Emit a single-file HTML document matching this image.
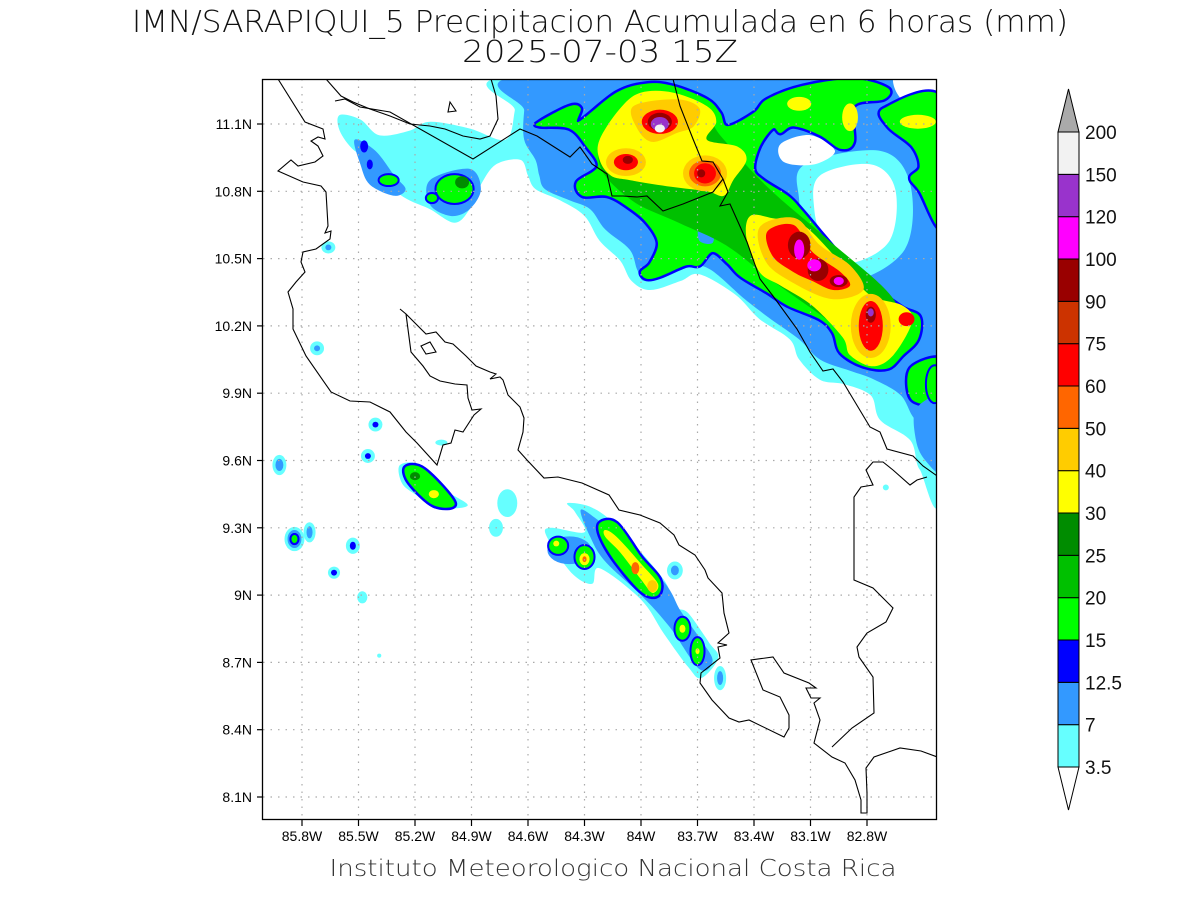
<!DOCTYPE html>
<html><head><meta charset="utf-8"><title>IMN SARAPIQUI Precipitacion</title>
<style>
html,body{margin:0;padding:0;background:#fff;}
svg{display:block;font-family:"Liberation Sans",sans-serif;}
.thin{font-family:"DejaVu Sans","Liberation Sans",sans-serif;font-weight:200;}
</style></head>
<body>
<svg id="chart" width="1200" height="900" viewBox="0 0 1200 900" xmlns="http://www.w3.org/2000/svg">
<rect x="0" y="0" width="1200" height="900" fill="#fff"/>
<text class="thin" x="600" y="32" text-anchor="middle" font-size="30" textLength="936" lengthAdjust="spacingAndGlyphs" fill="#111">IMN/SARAPIQUI_5 Precipitacion Acumulada en 6 horas (mm)</text>
<text class="thin" x="600" y="62" text-anchor="middle" font-size="30" textLength="276" lengthAdjust="spacingAndGlyphs" fill="#111">2025-07-03 15Z</text>
<defs><clipPath id="plotclip"><rect x="263" y="79" width="674" height="741"/></clipPath></defs>
<g id="shading" clip-path="url(#plotclip)"></g>
<g id="grid" clip-path="url(#plotclip)"></g>
<g id="coast" clip-path="url(#plotclip)" fill="none" stroke="#000" stroke-width="1.1">
<polyline points="278,79 305,122 323,129 325,139 318,137 311,141 318,146 323,156 315,162 298,166 291,160 278,171 303,182 321,186 326,192 328,226 325,233 331,231 330,239 316,249 303,252 301,262 305,272 296,282 288,292 293,309 293,329 306,356 331,392 350,401 370,402 390,412 406,432 417,443 437,465 443,445 451,443 455,430 463,432 474,415 481,409 472,410 468,398 467,385 455,384 440,381 430,376 423,366 411,352 406,314 400,309"/>
<polyline points="406,314 426,334 436,332 445,342 453,344 466,356 476,366 490,372 496,374 490,379 500,377 503,380 508,395 520,407 524,418 523,432 518,450 527,460 544,478 558,477 582,483 609,495 619,510 640,515 660,523 674,535 679,545 695,555 705,570 708,578 722,593 724,613 729,633 718,643 727,645 718,647 720,658 701,673 700,683 712,700 729,718 739,722 749,720 784,737 789,728 789,715 780,697 763,690 751,660 773,657 784,673 809,683 816,688 806,688 811,698 820,698 814,703 820,720 814,743 832,757 845,763 855,780 861,800 861,813 867,813 867,793 866,768 874,757 900,748 921,751 940,758"/>
<polyline points="832,747 852,728 874,713 873,677 859,657 857,647 867,633 886,622 893,608 873,588 854,580 854,497 861,487 873,485 866,470 873,462 883,462 893,470 910,485 917,480 927,477"/>
<polyline points="673,79 680,106 693,139 702,161 713,162 723,179 728,192 720,206 730,204 747,242 760,279 773,296 797,329 810,352 823,371 833,369 843,382 870,427 880,432 887,449 913,456 923,466 940,478"/>
<polyline points="335,101 345,99 360,107 390,112 473,159 520,129 537,136 570,157 580,147 592,164 607,174 612,196 623,196 637,197 647,196 663,211 683,204 713,192 723,179"/>
<polyline points="326,79 341,96 353,102 370,109 390,116 410,124 430,126 445,129 463,136 480,139 490,136 498,119 496,96 491,79"/>
<polygon points="450,102 456,111 448,112"/>
<polygon points="421,346 430,342 436,352 426,354"/>
</g>
<rect x="262.5" y="79.5" width="674" height="740" fill="none" stroke="#000" stroke-width="1.3"/>
<g id="axes"></g>
<g id="colorbar"></g>
<text class="thin" x="613" y="876" text-anchor="middle" font-size="23" textLength="567" lengthAdjust="spacingAndGlyphs" fill="#333">Instituto Meteorologico Nacional Costa Rica</text>
</svg>
<script>
// ---- data ----
const levelValues = [3.5, 7, 12.5, 15, 20, 25, 30, 40, 50, 60, 75, 90, 100, 120, 150, 200];
const levelLabels = ["3.5","7","12.5","15","20","25","30","40","50","60","75","90","100","120","150","200"];
const levelColors = ["#66ffff","#3399ff","#0000ff","#00ff00","#00c000","#008c00","#ffff00","#ffcc00","#ff6600","#ff0000","#cc3300","#990000","#ff00ff","#9933cc","#f2f2f2"];
const lonTicks = [85.8, 85.5, 85.2, 84.9, 84.6, 84.3, 84.0, 83.7, 83.4, 83.1, 82.8];
const lonTickLabels = ["85.8W","85.5W","85.2W","84.9W","84.6W","84.3W","84W","83.7W","83.4W","83.1W","82.8W"];
const latTicks = [11.1, 10.8, 10.5, 10.2, 9.9, 9.6, 9.3, 9.0, 8.7, 8.4, 8.1];
const latTickLabels = ["11.1N","10.8N","10.5N","10.2N","9.9N","9.6N","9.3N","9N","8.7N","8.4N","8.1N"];

// precipitation contour areas: value (mm) and vertices [lonW, lat]
const areaValues = [5, 10, 5, 0, 0, 0, 10, 10, 17, 10, 10, 17, 17, 22, 35, 45, 35, 45, 65, 5, 10, 17, 35, 5, 17, 10];
const areaPoints = [
 [[84.65,11.32],[82.40,11.32],[82.40,9.51],[82.52,9.56],[82.57,9.69],[82.73,9.78],[82.78,9.89],[82.92,9.94],[83.05,9.96],[83.16,10.05],[83.21,10.14],[83.37,10.23],[83.50,10.34],[83.69,10.43],[83.79,10.40],[83.95,10.36],[84.05,10.40],[84.11,10.49],[84.22,10.58],[84.30,10.69],[84.43,10.76],[84.56,10.81],[84.60,10.87],[84.64,10.94],[84.77,10.92],[84.85,10.83],[84.91,10.72],[84.99,10.66],[85.12,10.72],[85.23,10.76],[85.31,10.81],[85.39,10.92],[85.52,10.98],[85.60,11.07],[85.60,11.14],[85.49,11.12],[85.39,11.05],[85.23,11.07],[85.12,11.11],[84.91,11.08],[84.72,11.03],[84.67,11.16]],
 [[84.59,11.32],[82.40,11.32],[82.40,9.74],[82.54,9.78],[82.62,9.89],[82.76,9.96],[82.89,10.00],[83.05,10.05],[83.16,10.14],[83.31,10.23],[83.45,10.32],[83.63,10.45],[83.74,10.47],[83.87,10.45],[83.98,10.40],[84.02,10.45],[84.06,10.54],[84.19,10.63],[84.27,10.72],[84.38,10.76],[84.51,10.81],[84.54,10.87],[84.56,10.94],[84.62,11.03],[84.62,11.16]],
 [[83.13,10.92],[82.73,10.98],[82.57,10.83],[82.60,10.54],[82.89,10.40],[83.10,10.52],[83.16,10.76]],
 [[83.05,10.87],[82.78,10.92],[82.65,10.81],[82.68,10.58],[82.89,10.48],[83.02,10.56],[83.08,10.72]],
 [[83.26,11.01],[83.10,11.05],[82.97,10.98],[83.08,10.92],[83.24,10.93]],
 [[82.65,11.32],[82.40,11.32],[82.40,11.21],[82.60,11.20]],
 [[85.52,11.03],[85.41,10.98],[85.31,10.87],[85.25,10.81],[85.31,10.78],[85.44,10.83],[85.49,10.92]],
 [[85.12,10.85],[84.91,10.90],[84.85,10.81],[84.91,10.72],[85.01,10.69],[85.12,10.74]],
 [[84.54,11.11],[84.38,11.18],[84.32,11.17],[84.33,11.11],[84.13,11.24],[83.97,11.28],[83.83,11.27],[83.65,11.21],[83.58,11.15],[83.54,11.09],[83.40,11.15],[83.33,11.21],[83.14,11.27],[82.87,11.30],[82.69,11.26],[82.71,11.21],[82.87,11.18],[82.87,11.02],[82.94,10.99],[83.05,11.05],[83.19,11.09],[83.26,11.06],[83.30,11.08],[83.37,11.00],[83.40,10.90],[83.35,10.85],[83.22,10.78],[83.14,10.71],[83.05,10.62],[82.96,10.53],[82.87,10.44],[82.73,10.35],[82.61,10.28],[82.52,10.24],[82.53,10.14],[82.61,10.07],[82.69,10.01],[82.82,10.02],[82.94,10.08],[82.98,10.17],[83.05,10.23],[83.22,10.29],[83.33,10.35],[83.47,10.42],[83.54,10.48],[83.62,10.53],[83.69,10.47],[83.76,10.47],[83.90,10.42],[83.97,10.41],[84.00,10.44],[83.95,10.48],[83.91,10.57],[83.97,10.66],[84.07,10.73],[84.18,10.78],[84.31,10.78],[84.34,10.84],[84.23,10.91],[84.29,11.00],[84.38,11.08],[84.54,11.09]],
 [[83.79,10.73],[83.66,10.74],[83.64,10.68],[83.77,10.67]],
 [[83.69,10.65],[83.62,10.64],[83.62,10.57],[83.69,10.58]],
 [[82.71,11.17],[82.40,11.21],[82.40,10.65],[82.52,10.80],[82.57,10.86],[82.52,10.91],[82.56,11.00],[82.69,11.09]],
 [[82.57,10.01],[82.40,10.05],[82.40,9.87],[82.56,9.87]],
 [[84.15,11.10],[83.72,11.20],[83.58,11.05],[83.33,10.82],[83.00,10.58],[82.66,10.32],[82.64,10.14],[82.80,10.08],[83.00,10.22],[83.30,10.40],[83.55,10.56],[83.80,10.66],[84.05,10.76],[84.22,10.92]],
 [[84.22,11.03],[84.11,11.17],[84.00,11.24],[83.83,11.24],[83.65,11.18],[83.60,11.11],[83.65,11.03],[83.49,11.00],[83.44,10.94],[83.51,10.85],[83.56,10.78],[83.65,10.80],[83.84,10.82],[84.06,10.85],[84.16,10.87],[84.22,10.94]],
 [[84.04,11.18],[83.81,11.21],[83.69,11.17],[83.72,11.09],[83.81,11.06],[83.94,11.02],[84.02,11.08]],
 [[83.42,10.69],[83.30,10.68],[83.14,10.65],[82.96,10.50],[82.87,10.41],[82.77,10.33],[82.61,10.29],[82.56,10.22],[82.66,10.07],[82.77,10.02],[82.89,10.07],[82.93,10.15],[83.09,10.29],[83.26,10.38],[83.37,10.44],[83.44,10.59]],
 [[83.37,10.64],[83.18,10.68],[83.05,10.56],[82.89,10.47],[82.82,10.36],[82.99,10.32],[83.21,10.40],[83.34,10.49]],
 [[83.33,10.62],[83.19,10.65],[83.09,10.53],[82.94,10.44],[82.89,10.38],[82.98,10.36],[83.09,10.40],[83.19,10.44],[83.30,10.51]],
 [[84.39,9.41],[84.26,9.39],[84.12,9.30],[83.88,9.07],[83.82,8.95],[83.75,8.92],[83.64,8.79],[83.59,8.72],[83.68,8.63],[83.75,8.68],[83.88,8.83],[84.00,8.98],[84.22,9.12],[84.26,9.05],[84.37,9.10],[84.50,9.26],[84.48,9.30],[84.30,9.28],[84.35,9.37]],
 [[84.32,9.38],[84.22,9.33],[84.08,9.25],[83.87,9.05],[83.79,8.93],[83.69,8.81],[83.62,8.71],[83.69,8.67],[83.85,8.86],[84.00,9.00],[84.19,9.15],[84.27,9.26]],
 [[84.22,9.32],[84.13,9.32],[84.00,9.17],[83.90,9.07],[83.91,9.00],[83.99,9.01],[84.12,9.13],[84.21,9.25]],
 [[84.19,9.29],[84.13,9.26],[84.00,9.14],[83.91,9.05],[83.94,9.01],[84.00,9.07],[84.11,9.19],[84.19,9.26]],
 [[85.28,9.58],[85.17,9.58],[85.04,9.47],[84.92,9.40],[85.07,9.39],[85.20,9.45],[85.27,9.50]],
 [[85.25,9.57],[85.15,9.56],[84.99,9.41],[85.10,9.40],[85.23,9.50]],
 [[82.54,9.83],[82.40,9.87],[82.40,9.56],[82.49,9.60],[82.54,9.69]]
];

// small rain cells: centre lonW, lat, radii (deg), value (mm)
const cellLon = [83.90,83.90,83.90,83.90, 84.08,84.08,84.07, 83.66,83.66,83.66,83.68, 83.16,82.89,82.53,
 83.16,83.06,83.16,83.08,82.95,82.95, 82.78,82.78,82.78,82.78,82.59,
 84.38,83.94,84.03, 84.44,84.45, 84.30,84.30,84.30, 83.78,83.78, 83.70,83.70,
 85.10,85.20, 84.71,84.77,85.06, 83.82,83.82,83.58,83.58,
 85.92,85.92, 85.84,85.84,85.84,85.84, 85.76,85.76, 85.53,85.53, 85.63,85.63, 85.48, 85.41,85.41, 85.45,85.45, 85.72,85.72, 85.66,85.66, 85.39,
 85.34,85.47,85.44, 84.99,85.11,84.95, 82.44,82.70];
const cellLat = [11.11,11.11,11.10,11.08, 10.93,10.93,10.94, 10.88,10.88,10.88,10.88, 11.19,11.13,11.11,
 10.56,10.45,10.54,10.47,10.40,10.40, 10.20,10.20,10.25,10.26,10.23,
 9.20,9.04,9.12, 9.22,9.23, 9.17,9.16,9.16, 8.85,8.85, 8.75,8.75,
 9.45,9.53, 9.41,9.30,9.68, 9.11,9.11,8.63,8.63,
 9.58,9.58, 9.25,9.25,9.25,9.25, 9.28,9.28, 9.22,9.22, 9.10,9.10, 8.99, 9.76,9.76, 9.62,9.62, 10.10,10.10, 10.55,10.55, 8.73,
 10.85,11.00,10.92, 10.81,10.77,10.84, 9.94,9.48];
const cellRx = [0.096,0.064,0.048,0.027, 0.106,0.064,0.027, 0.117,0.085,0.058,0.021, 0.064,0.042,0.096,
 0.060,0.055,0.027,0.037,0.048,0.027, 0.106,0.064,0.027,0.016,0.042,
 0.117,0.027,0.021, 0.048,0.016, 0.048,0.027,0.011, 0.037,0.016, 0.032,0.011,
 0.027,0.027, 0.053,0.037,0.032, 0.042,0.021,0.032,0.016,
 0.037,0.021, 0.053,0.037,0.027,0.016, 0.032,0.016, 0.037,0.016, 0.032,0.016, 0.027, 0.037,0.016, 0.037,0.016, 0.037,0.016, 0.037,0.016, 0.011,
 0.048,0.021,0.016, 0.096,0.027,0.037, 0.042,0.016];
const cellRy = [0.054,0.040,0.031,0.018, 0.062,0.036,0.018, 0.080,0.058,0.045,0.018, 0.031,0.062,0.031,
 0.060,0.050,0.045,0.027,0.027,0.018, 0.143,0.111,0.036,0.018,0.031,
 0.062,0.027,0.027, 0.036,0.013, 0.049,0.027,0.013, 0.049,0.018, 0.058,0.013,
 0.018,0.018, 0.062,0.040,0.013, 0.040,0.022,0.054,0.031,
 0.045,0.027, 0.054,0.040,0.027,0.018, 0.045,0.027, 0.036,0.018, 0.027,0.013, 0.027, 0.031,0.013, 0.031,0.013, 0.031,0.013, 0.027,0.013, 0.009,
 0.022,0.027,0.022, 0.062,0.018,0.027, 0.080,0.013];
const cellValues = [65,95,130,170, 45,65,95, 45,55,65,95, 35,35,35,
 95,95,110,110,95,110, 45,65,95,130,65,
 10,45,55, 17,35, 17,35,55, 17,35, 17,35,
 35,27, 5,5,5, 5,10,5,10,
 5,10, 5,10,13,17, 5,10, 5,13, 5,13, 5, 5,13, 5,13, 5,10, 5,10, 5,
 17,13,13, 17,17,27, 17,5];

// ---- scales ----
const X0 = 302, PXLON = 56.5/0.3, Y0 = 124, PXLAT = 67.3/0.3;
function xScale(lonW){ return X0 + (85.8 - lonW) * PXLON; }
function yScale(lat){ return Y0 + (11.1 - lat) * PXLAT; }
function colorFor(v){
  if (v < levelValues[0]) return "#ffffff";
  for (let i = levelColors.length - 1; i >= 0; i--) if (v >= levelValues[i]) return levelColors[i];
  return "#ffffff";
}
const NS = "http://www.w3.org/2000/svg";
function smoothPath(pts){
  const n = pts.length; let d = "M" + pts[0][0].toFixed(1) + "," + pts[0][1].toFixed(1);
  for (let i = 0; i < n; i++){
    const p0 = pts[(i-1+n)%n], p1 = pts[i], p2 = pts[(i+1)%n], p3 = pts[(i+2)%n];
    const c1x = p1[0] + (p2[0]-p0[0])/6, c1y = p1[1] + (p2[1]-p0[1])/6;
    const c2x = p2[0] - (p3[0]-p1[0])/6, c2y = p2[1] - (p3[1]-p1[1])/6;
    d += "C" + c1x.toFixed(1) + "," + c1y.toFixed(1) + " " + c2x.toFixed(1) + "," + c2y.toFixed(1) + " " + p2[0].toFixed(1) + "," + p2[1].toFixed(1);
  }
  return d + "Z";
}
const shading = document.getElementById("shading");
areaPoints.forEach((poly, i) => {
  const v = areaValues[i];
  const p = document.createElementNS(NS, "path");
  p.setAttribute("d", smoothPath(poly.map(q => [xScale(q[0]), yScale(q[1])])));
  p.setAttribute("fill", colorFor(v));
  if (v >= 15 && v < 20){ p.setAttribute("stroke", "#0000ff"); p.setAttribute("stroke-width", "5"); p.setAttribute("paint-order", "stroke"); p.setAttribute("stroke-linejoin", "round"); }
  
  
  shading.appendChild(p);
});
cellLon.forEach((lon, i) => {
  const v = cellValues[i];
  const e = document.createElementNS(NS, "ellipse");
  e.setAttribute("cx", xScale(lon)); e.setAttribute("cy", yScale(cellLat[i]));
  e.setAttribute("rx", cellRx[i] * PXLON); e.setAttribute("ry", cellRy[i] * PXLAT);
  e.setAttribute("fill", colorFor(v));
  if (v >= 15 && v < 20){ e.setAttribute("stroke", "#0000ff"); e.setAttribute("stroke-width", "4"); e.setAttribute("paint-order", "stroke"); }
  
  
  shading.appendChild(e);
});
// grid
const grid = document.getElementById("grid");
lonTicks.forEach(t => {
  const l = document.createElementNS(NS, "line");
  l.setAttribute("x1", xScale(t)); l.setAttribute("x2", xScale(t)); l.setAttribute("y1", 79); l.setAttribute("y2", 820);
  l.setAttribute("stroke", "#aaa"); l.setAttribute("stroke-width", "1.2"); l.setAttribute("stroke-dasharray", "1.5,6");
  
  
  grid.appendChild(l);
});
latTicks.forEach(t => {
  const l = document.createElementNS(NS, "line");
  l.setAttribute("y1", yScale(t)); l.setAttribute("y2", yScale(t)); l.setAttribute("x1", 263); l.setAttribute("x2", 937);
  l.setAttribute("stroke", "#aaa"); l.setAttribute("stroke-width", "1.2"); l.setAttribute("stroke-dasharray", "1.5,6");
  
  
  grid.appendChild(l);
});
// axes
const axes = document.getElementById("axes");
lonTicks.forEach((t, i) => {
  const x = xScale(t);
  const tk = document.createElementNS(NS, "line");
  tk.setAttribute("x1", x); tk.setAttribute("x2", x); tk.setAttribute("y1", 820); tk.setAttribute("y2", 826);
  tk.setAttribute("stroke", "#000"); tk.setAttribute("stroke-width", "1.2");
  
  
  axes.appendChild(tk);
  const tx = document.createElementNS(NS, "text");
  tx.setAttribute("x", x); tx.setAttribute("y", 841); tx.setAttribute("text-anchor", "middle"); tx.setAttribute("font-size", "14");
  tx.textContent = lonTickLabels[i];
  
  
  axes.appendChild(tx);
});
latTicks.forEach((t, i) => {
  const y = yScale(t);
  const tk = document.createElementNS(NS, "line");
  tk.setAttribute("x1", 257); tk.setAttribute("x2", 263); tk.setAttribute("y1", y); tk.setAttribute("y2", y);
  tk.setAttribute("stroke", "#000"); tk.setAttribute("stroke-width", "1.2");
  
  
  axes.appendChild(tk);
  const tx = document.createElementNS(NS, "text");
  tx.setAttribute("x", 252); tx.setAttribute("y", y + 5); tx.setAttribute("text-anchor", "end"); tx.setAttribute("font-size", "14");
  tx.textContent = latTickLabels[i];
  
  
  axes.appendChild(tx);
});
// colorbar
const cb = document.getElementById("colorbar");
const CBX = 1058, CBW = 21, CBBOT = 767, CBTOP = 132, BOXH = (CBBOT - CBTOP) / levelColors.length;
levelColors.forEach((c, i) => {
  const r = document.createElementNS(NS, "rect");
  r.setAttribute("x", CBX); r.setAttribute("y", CBBOT - (i + 1) * BOXH); r.setAttribute("width", CBW); r.setAttribute("height", BOXH);
  r.setAttribute("fill", c); r.setAttribute("stroke", "#000"); r.setAttribute("stroke-width", "1");
  
  
  cb.appendChild(r);
});
const triTop = document.createElementNS(NS, "polygon");
triTop.setAttribute("points", CBX + "," + CBTOP + " " + (CBX + CBW) + "," + CBTOP + " " + (CBX + CBW / 2) + ",89");
triTop.setAttribute("fill", "#aaaaaa"); triTop.setAttribute("stroke", "#000");


cb.appendChild(triTop);
const triBot = document.createElementNS(NS, "polygon");
triBot.setAttribute("points", CBX + "," + CBBOT + " " + (CBX + CBW) + "," + CBBOT + " " + (CBX + CBW / 2) + ",810");
triBot.setAttribute("fill", "#ffffff"); triBot.setAttribute("stroke", "#000");


cb.appendChild(triBot);
levelLabels.forEach((lab, i) => {
  const t = document.createElementNS(NS, "text");
  t.setAttribute("x", 1085); t.setAttribute("y", CBBOT - i * BOXH + 7); t.setAttribute("font-size", "19"); t.setAttribute("fill", "#111");
  t.textContent = lab;
  
  
  cb.appendChild(t);
});
</script>
</body></html>
